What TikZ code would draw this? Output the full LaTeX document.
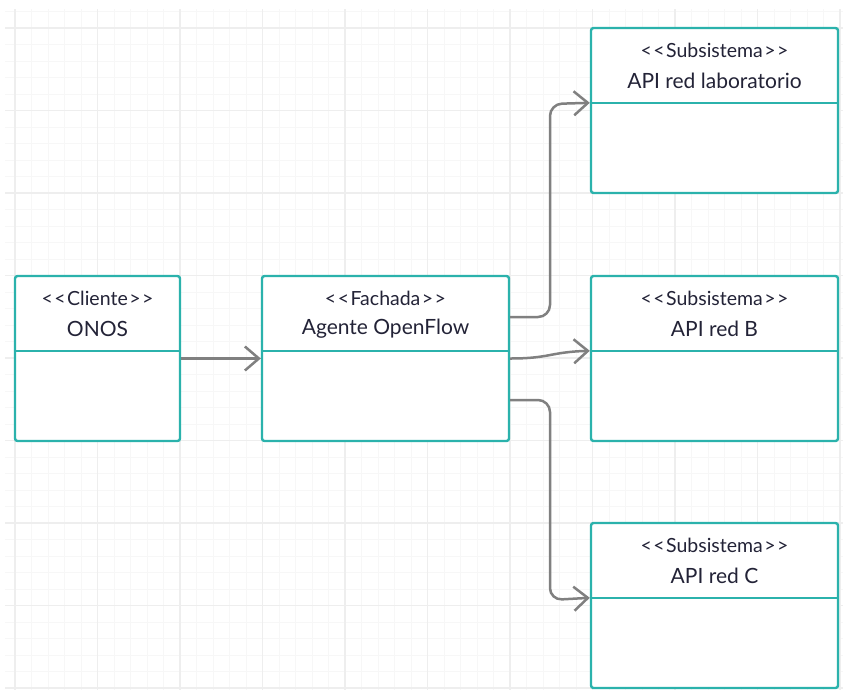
\documentclass[tikz,border=0pt]{standalone}
\usepackage{fontspec}
\setmainfont{Lato}
\usetikzlibrary{arrows.meta,calc}
\definecolor{teal2}{RGB}{43,178,172}
\definecolor{conncol}{RGB}{128,128,128}
\definecolor{txtcol}{RGB}{35,35,55}
\definecolor{gridminor}{RGB}{247,247,247}
\definecolor{gridmajor}{RGB}{238,238,238}
\newcommand{\lt}{\textless\kern1.5pt}
\newcommand{\gt}{\kern1.5pt\textgreater}
\tikzset{
  umlbox/.style={draw=teal2, line width=2.4pt, rounded corners=2.5pt, fill=white, inner sep=0pt, minimum height=165pt},
  divider/.style={draw=teal2, line width=2.4pt},
  stereo/.style={text=txtcol, font=\fontsize{19.5}{22}\selectfont, inner sep=0pt},
  boxname/.style={text=txtcol, font=\fontsize{21}{24}\selectfont, inner sep=0pt},
  conn/.style={draw=conncol, line width=2.5pt, -{Straight Barb[length=14pt,width=24pt,line width=2.5pt]}},
}
\begin{document}
\begin{tikzpicture}[x=1pt,y=-1pt]
\useasboundingbox (0,0) rectangle (843,689);
\fill[white] (0,0) rectangle (843,689);
% grid
\begin{scope}
\clip (5,9) rectangle (843,689);
\foreach \i in {0,...,52} {
  \draw[gridminor, line width=0.8pt] ({-1.5+16.5*\i},0) -- ({-1.5+16.5*\i},700);
}
\foreach \j in {0,...,42} {
  \draw[gridminor, line width=0.8pt] (0,{-5+16.5*\j}) -- (850,{-5+16.5*\j});
}
\foreach \i in {0,...,10} {
  \draw[gridmajor, line width=1.1pt] ({15+82.5*\i},0) -- ({15+82.5*\i},700);
}
\foreach \j in {0,...,8} {
  \draw[gridmajor, line width=1.1pt] (0,{28+82.5*\j}) -- (850,{28+82.5*\j});
}
\end{scope}

% boxes
\node[umlbox, minimum width=165pt] (onos) at (97.5,358.5) {};
\node[umlbox, minimum width=247pt] (fach) at (385.5,358.5) {};
\node[umlbox, minimum width=247pt] (lab) at (714.5,110.5) {};
\node[umlbox, minimum width=247pt] (redb) at (714.5,358.5) {};
\node[umlbox, minimum width=247pt] (redc) at (714.5,605.5) {};

\foreach \b/\s/\n in {onos/Cliente/ONOS, fach/Fachada/Agente OpenFlow, lab/Subsistema/API red laboratorio, redb/Subsistema/API red B, redc/Subsistema/API red C} {
  \draw[divider] ($(\b.north west)+(0,76)$) coordinate (\b-dl) -- ($(\b.north east)+(0,76)$) coordinate (\b-dr);
  \node[stereo] (\b-st) at ($(\b.north)+(0,24)$) {\lt\lt\s\gt\gt};
  \node[boxname] (\b-nm) at ($(\b.north)+(0,54)$) {\n};
}

% connectors
\draw[conn] (onos.east) -- (fach.west);
\coordinate (f1) at ($(fach.east)+(0,-41.5)$);
\coordinate (f3) at ($(fach.east)+(0,41.5)$);
\draw[conn, rounded corners=12pt] (f1) -- (550,317) -- (550,104) -- (lab-dl);
\draw[conn] (fach.east) .. controls (550,358.5) and (550,352) .. (redb-dl);
\draw[conn, rounded corners=12pt] (f3) -- (550,400) -- (550,600) -- (redc-dl);
\end{tikzpicture}
\end{document}
